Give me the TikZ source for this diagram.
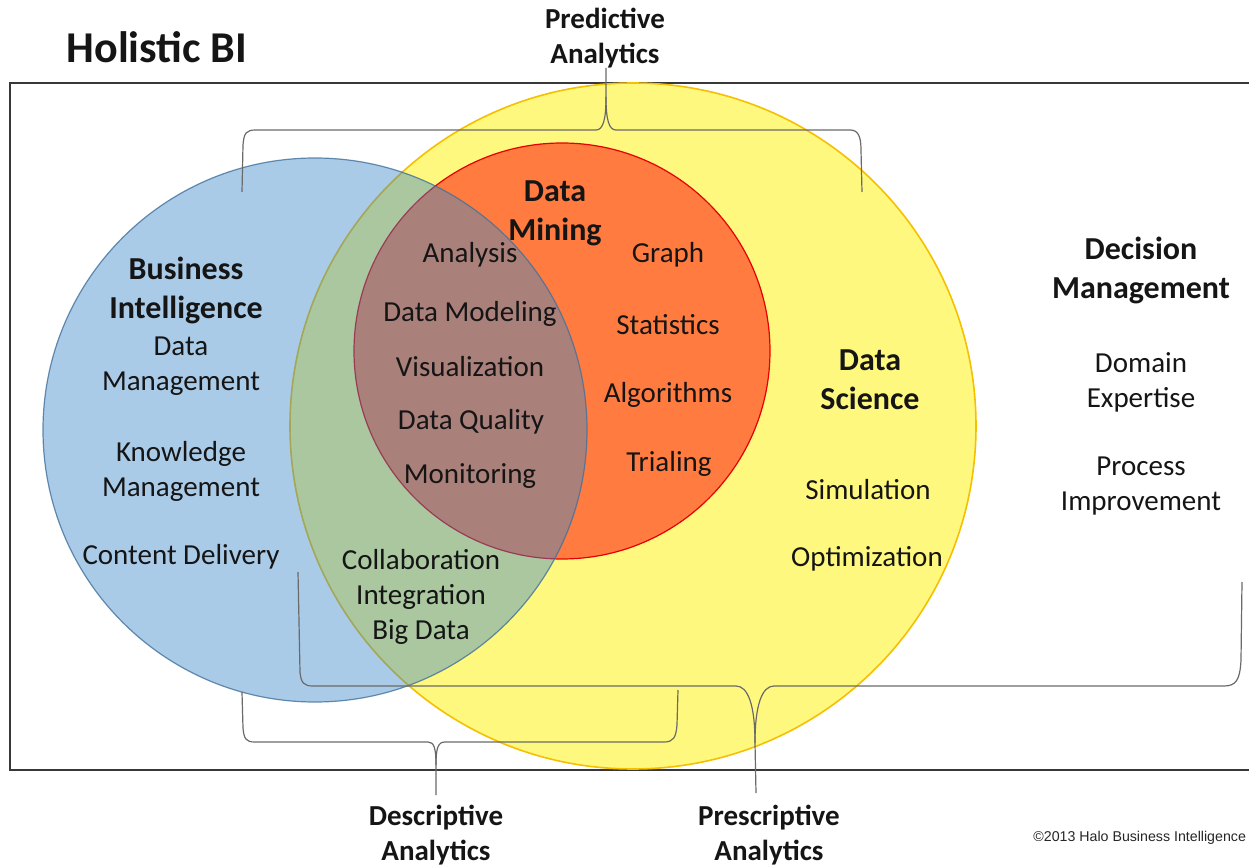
\documentclass[tikz,border=0pt]{standalone}
\usepackage{fontspec}
\setmainfont{Carlito}
\newfontfamily\arialfont{Liberation Sans}
\definecolor{biedge}{HTML}{41719C}
\definecolor{bifill}{HTML}{3A88CB}
\definecolor{yedge}{HTML}{F5C000}
\definecolor{bracecol}{HTML}{6A6A6A}
\definecolor{framecol}{HTML}{383838}
\definecolor{txtcol}{HTML}{151515}
\begin{document}
\begin{tikzpicture}[x=0.5pt,y=-0.5pt,
  reg/.style={font=\fontsize{14.5}{17.5}\selectfont, align=center, inner sep=0pt, text=txtcol},
  hd/.style={font=\bfseries\fontsize{16}{19.5}\selectfont, align=center, inner sep=0pt, text=txtcol},
  an/.style={font=\bfseries\fontsize{14.5}{17.5}\selectfont, align=center, inner sep=0pt, text=txtcol},
  titlestyle/.style={font=\bfseries\fontsize{22}{26}\selectfont, inner sep=0pt, text=txtcol},
  brace/.style={draw=bracecol, line width=0.6pt},
]
\useasboundingbox (0,0) rectangle (1249,866);
\clip (0,0) rectangle (1249,866);
\fill[white] (0,0) rectangle (1249,866);

% frame
\draw[framecol, line width=1pt] (10,83) rectangle (1275,770);

% circles
\fill[yellow, fill opacity=0.5] (633,426) circle[radius=343];
\draw[yedge, line width=0.8pt] (633,426) circle[radius=343];
\fill[red, fill opacity=0.5] (562,351) circle[radius=208];
\draw[red!90!black, line width=0.6pt] (562,351) circle[radius=208];
\fill[bifill, fill opacity=0.43] (315,430) circle[radius=272];
\draw[biedge, line width=0.6pt, draw opacity=0.8] (315,430) circle[radius=272];

% braces
\coordinate (predtip) at (606,68);
\coordinate (desctip) at (436,795);
\coordinate (prestip) at (756,793);
\draw[brace] (242,192) -- (243,145) .. controls (244,133) and (246,130) .. (256,130) -- (596,130) .. controls (603,130) and (606,120) .. (606,97) -- (predtip);
\draw[brace] (606,97) .. controls (606,120) and (609,130) .. (616,130) -- (850,130) .. controls (858,130) and (861,136) .. (861,150) -- (862,192);

\draw[brace] (242,692) -- (243,728) .. controls (244,739) and (246,742) .. (255,742) -- (428,742) .. controls (434,742) and (436,748) .. (436,765) -- (desctip);
\draw[brace] (436,765) .. controls (436,748) and (438,742) .. (445,742) -- (664,742) .. controls (673,742) and (676,738) .. (677,725) -- (678,690);

\draw[brace] (298,572) -- (300,672) .. controls (301,683) and (304,686) .. (313,686) -- (736,686) .. controls (748,686) and (755,705) .. (755,743) -- (prestip);
\draw[brace] (755,743) .. controls (755,705) and (762,686) .. (774,686) -- (1224,686) .. controls (1236,686) and (1240,680) .. (1241,660) -- (1242,582);

% title and analytics labels
\node[titlestyle] (title) at (157,47) {Holistic BI};
\node[an] (pred) at (605,38) {Predictive\\Analytics};
\node[an] (desc) at (436,835) {Descriptive\\Analytics};
\node[an] (pres) at (769,835) {Prescriptive\\Analytics};

% Business intelligence
\node[hd] (bi) at (186,290) {Business\\Intelligence};
\node[reg] (dm) at (181,366) {Data\\Management};
\node[reg] (km) at (181,471) {Knowledge\\Management};
\node[reg] (cd) at (181,557) {Content Delivery};

% overlap
\node[reg] (ana) at (470,255) {Analysis};
\node[reg] (dmod) at (470,314) {Data Modeling};
\node[reg] (vis) at (470,367) {Visualization};
\node[reg] (dq) at (471,422) {Data Quality};
\node[reg] (mon) at (470,476) {Monitoring};
\node[reg] (collab) at (421,597) {Collaboration\\Integration\\Big Data};

% data mining
\node[hd] (mining) at (555,213) {Data\\Mining};
\node[reg] (graph) at (668,255) {Graph};
\node[reg] (stat) at (668,325) {Statistics};
\node[reg] (algo) at (668,395) {Algorithms};
\node[reg] (trial) at (669,464) {Trialing};

% data science
\node[hd] (ds) at (870,380) {Data\\Science};
\node[reg] (sim) at (868,490) {Simulation};
\node[reg] (opt) at (867,559) {Optimization};

% decision management
\node[hd] (decm) at (1141,270) {Decision\\Management};
\node[reg] (dom) at (1141,382) {Domain\\Expertise};
\node[reg] (proc) at (1141,486) {Process\\Improvement};

% copyright
\node[anchor=west, inner sep=0pt, font=\arialfont\fontsize{7.1}{9}\selectfont, text=black!85] (copy) at (1033,838) {\textcopyright2013 Halo Business Intelligence};
\end{tikzpicture}
\end{document}
